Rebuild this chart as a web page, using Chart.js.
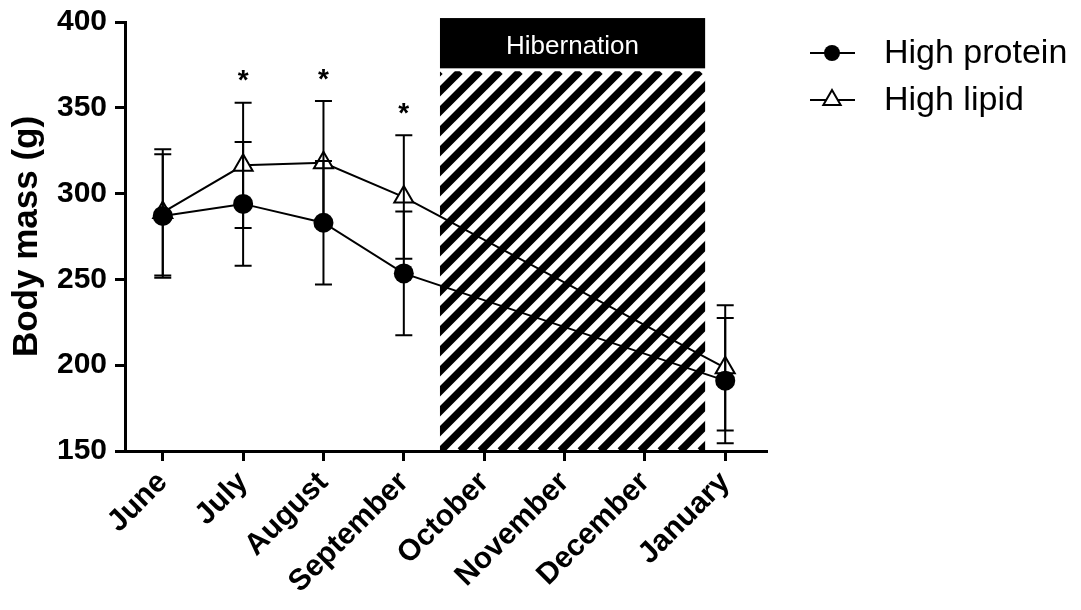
<!DOCTYPE html>
<html>
<head>
<meta charset="utf-8">
<script src="https://cdn.jsdelivr.net/npm/chart.js@4.4.1/dist/chart.umd.min.js"></script>
<style>
  html, body { margin: 0; padding: 0; background: #fff; }
  #wrap { width: 1081px; height: 610px; position: relative; }
</style>
</head>
<body>
<div id="wrap"><canvas id="c" width="1081" height="610"></canvas></div>
<script>
// ---- data ----
const months = ['June', 'July', 'August', 'September', 'October', 'November', 'December', 'January'];
const proteinMean = [287, 294, 283, 253.5, null, null, null, 191];
const proteinSD   = [36, 36, 36, 36, null, null, null, 36.5];
const lipidMean   = [289, 316.5, 318, 298, null, null, null, 198.5];
const lipidSD     = [36.8, 36.5, 36, 36, null, null, null, 36.5];
const significance = ['', '*', '*', '*', '', '', '', ''];
const yTicks = [150, 200, 250, 300, 350, 400];
const seriesNames = ['High protein', 'High lipid'];
// hibernation period (in month-index units) and header band (in g units)
const hibernationStart = 3.45, hibernationEnd = 6.75;
const hibernationTop = 402.3, hibernationHeaderBottom = 373;
const hibernationLabel = 'Hibernation';

function toPoints(means) {
  return means.map((v, i) => ({ x: i, y: v })).filter(p => p.y !== null);
}

const hibernationPlugin = {
  id: 'hibernation',
  beforeDatasetsDraw(chart) {
    const { ctx, scales: { x, y } } = chart;
    const x0 = x.getPixelForValue(hibernationStart);
    const x1 = x.getPixelForValue(hibernationEnd);
    const yTop = y.getPixelForValue(hibernationTop);
    const yHead = y.getPixelForValue(hibernationHeaderBottom);
    const yBot = y.getPixelForValue(150);
    ctx.save();
    // header band
    ctx.fillStyle = '#000';
    ctx.fillRect(x0, yTop, x1 - x0, yHead - yTop);
    ctx.fillStyle = '#fff';
    ctx.font = '26px "Liberation Sans", Arial, sans-serif';
    ctx.textAlign = 'center';
    ctx.textBaseline = 'middle';
    ctx.fillText(hibernationLabel, (x0 + x1) / 2, (yTop + yHead) / 2 + 4);
    // hatch
    const hTop = yHead + 3;
    ctx.beginPath();
    ctx.rect(x0, hTop, x1 - x0, yBot - hTop);
    ctx.clip();
    ctx.strokeStyle = '#000';
    ctx.lineWidth = 7.5;
    const period = 20;
    const h = yBot - hTop;
    for (let s = x0 - h - period; s < x1 + period; s += period) {
      ctx.beginPath();
      ctx.moveTo(s, yBot);
      ctx.lineTo(s + h, hTop);
      ctx.stroke();
    }
    ctx.restore();
  }
};

const errorBarPlugin = {
  id: 'errorBars',
  afterDatasetsDraw(chart) {
    const { ctx, scales: { x, y } } = chart;
    ctx.save();
    ctx.strokeStyle = '#000';
    ctx.lineWidth = 2;
    const cap = 8.5;
    [[proteinMean, proteinSD], [lipidMean, lipidSD]].forEach(([m, sd]) => {
      m.forEach((v, i) => {
        if (v === null) return;
        const px = x.getPixelForValue(i);
        const yHi = y.getPixelForValue(v + sd[i]);
        const yLo = y.getPixelForValue(v - sd[i]);
        ctx.beginPath();
        ctx.moveTo(px, yHi); ctx.lineTo(px, yLo);
        ctx.moveTo(px - cap, yHi); ctx.lineTo(px + cap, yHi);
        ctx.moveTo(px - cap, yLo); ctx.lineTo(px + cap, yLo);
        ctx.stroke();
      });
    });
    // significance marks
    ctx.fillStyle = '#000';
    ctx.font = 'bold 28px "Liberation Sans", Arial, sans-serif';
    ctx.textAlign = 'center';
    ctx.textBaseline = 'middle';
    significance.forEach((s, i) => {
      if (!s) return;
      const top = Math.max(lipidMean[i] + lipidSD[i], proteinMean[i] + proteinSD[i]);
      const px = x.getPixelForValue(i);
      const py = y.getPixelForValue(top) - 21;
      ctx.fillText(s, px, py);
    });
    ctx.restore();
  }
};

const legendPlugin = {
  id: 'customLegend',
  afterDraw(chart) {
    const { ctx } = chart;
    ctx.save();
    ctx.strokeStyle = '#000';
    ctx.fillStyle = '#000';
    ctx.lineWidth = 2;
    const lx0 = 810, lx1 = 855, mx = 832, tx = 884;
    const rows = [53, 100];
    ctx.font = '34px "Liberation Sans", Arial, sans-serif';
    ctx.textBaseline = 'middle';
    ctx.textAlign = 'left';
    rows.forEach((ry, k) => {
      ctx.beginPath();
      ctx.moveTo(lx0, ry); ctx.lineTo(lx1, ry);
      ctx.stroke();
      if (k === 0) {
        ctx.beginPath();
        ctx.arc(mx, ry, 8, 0, Math.PI * 2);
        ctx.fill();
      } else {
        const r = 10;
        ctx.beginPath();
        ctx.moveTo(mx, ry - r);
        ctx.lineTo(mx + r * 0.866, ry + r * 0.5);
        ctx.lineTo(mx - r * 0.866, ry + r * 0.5);
        ctx.closePath();
        ctx.fillStyle = '#fff';
        ctx.fill();
        ctx.stroke();
        ctx.fillStyle = '#000';
      }
      ctx.fillText(seriesNames[k], tx, ry + 1);
    });
    ctx.restore();
  }
};

const tickFont = { family: '"Liberation Sans", Arial, sans-serif', size: 30, weight: 'bold' };

new Chart(document.getElementById('c'), {
  type: 'line',
  data: {
    datasets: [
      {
        label: seriesNames[0],
        data: toPoints(proteinMean),
        borderColor: '#000',
        backgroundColor: '#000',
        borderWidth: 2,
        pointStyle: 'circle',
        pointRadius: 10,
        pointBorderWidth: 0,
        pointBackgroundColor: '#000',
        tension: 0
      },
      {
        label: seriesNames[1],
        data: toPoints(lipidMean),
        borderColor: '#000',
        backgroundColor: '#fff',
        borderWidth: 2,
        pointStyle: 'triangle',
        pointRadius: 11,
        pointBorderWidth: 2,
        pointBorderColor: '#000',
        pointBackgroundColor: '#fff',
        tension: 0
      }
    ]
  },
  options: {
    responsive: false,
    animation: false,
    devicePixelRatio: 1,
    layout: { padding: { top: 22, right: 314, left: 6, bottom: 0 } },
    plugins: { legend: { display: false }, tooltip: { enabled: false } },
    scales: {
      x: {
        type: 'linear',
        min: -0.47,
        max: 7.52,
        afterBuildTicks(scale) { scale.ticks = months.map((m, i) => ({ value: i })); },
        afterFit(scale) { scale.height = 159; },
        ticks: {
          callback: (v) => months[v],
          font: { ...tickFont, size: 30 },
          color: '#000',
          maxRotation: 45,
          minRotation: 45,
          autoSkip: false,
          padding: 4
        },
        grid: { display: true, drawOnChartArea: false, drawTicks: true, tickLength: 10, tickWidth: 3, color: '#000' },
        border: { display: true, color: '#000', width: 3 }
      },
      y: {
        min: 150,
        max: 400,
        afterBuildTicks(scale) { scale.ticks = yTicks.map(v => ({ value: v })); },
        afterFit(scale) { scale.width = 119; scale.paddingTop = 0; scale.paddingBottom = 0; },
        ticks: { font: { ...tickFont, lineHeight: 1 }, color: '#000', padding: 8 },
        title: {
          display: true,
          text: 'Body mass (g)',
          color: '#000',
          font: { family: '"Liberation Sans", Arial, sans-serif', size: 35, weight: 'bold' },
          padding: { top: 0, bottom: 2 }
        },
        grid: { display: true, drawOnChartArea: false, drawTicks: true, tickLength: 10, tickWidth: 3, color: '#000' },
        border: { display: true, color: '#000', width: 3 }
      }
    }
  },
  plugins: [hibernationPlugin, errorBarPlugin, legendPlugin]
});
</script>
</body>
</html>
